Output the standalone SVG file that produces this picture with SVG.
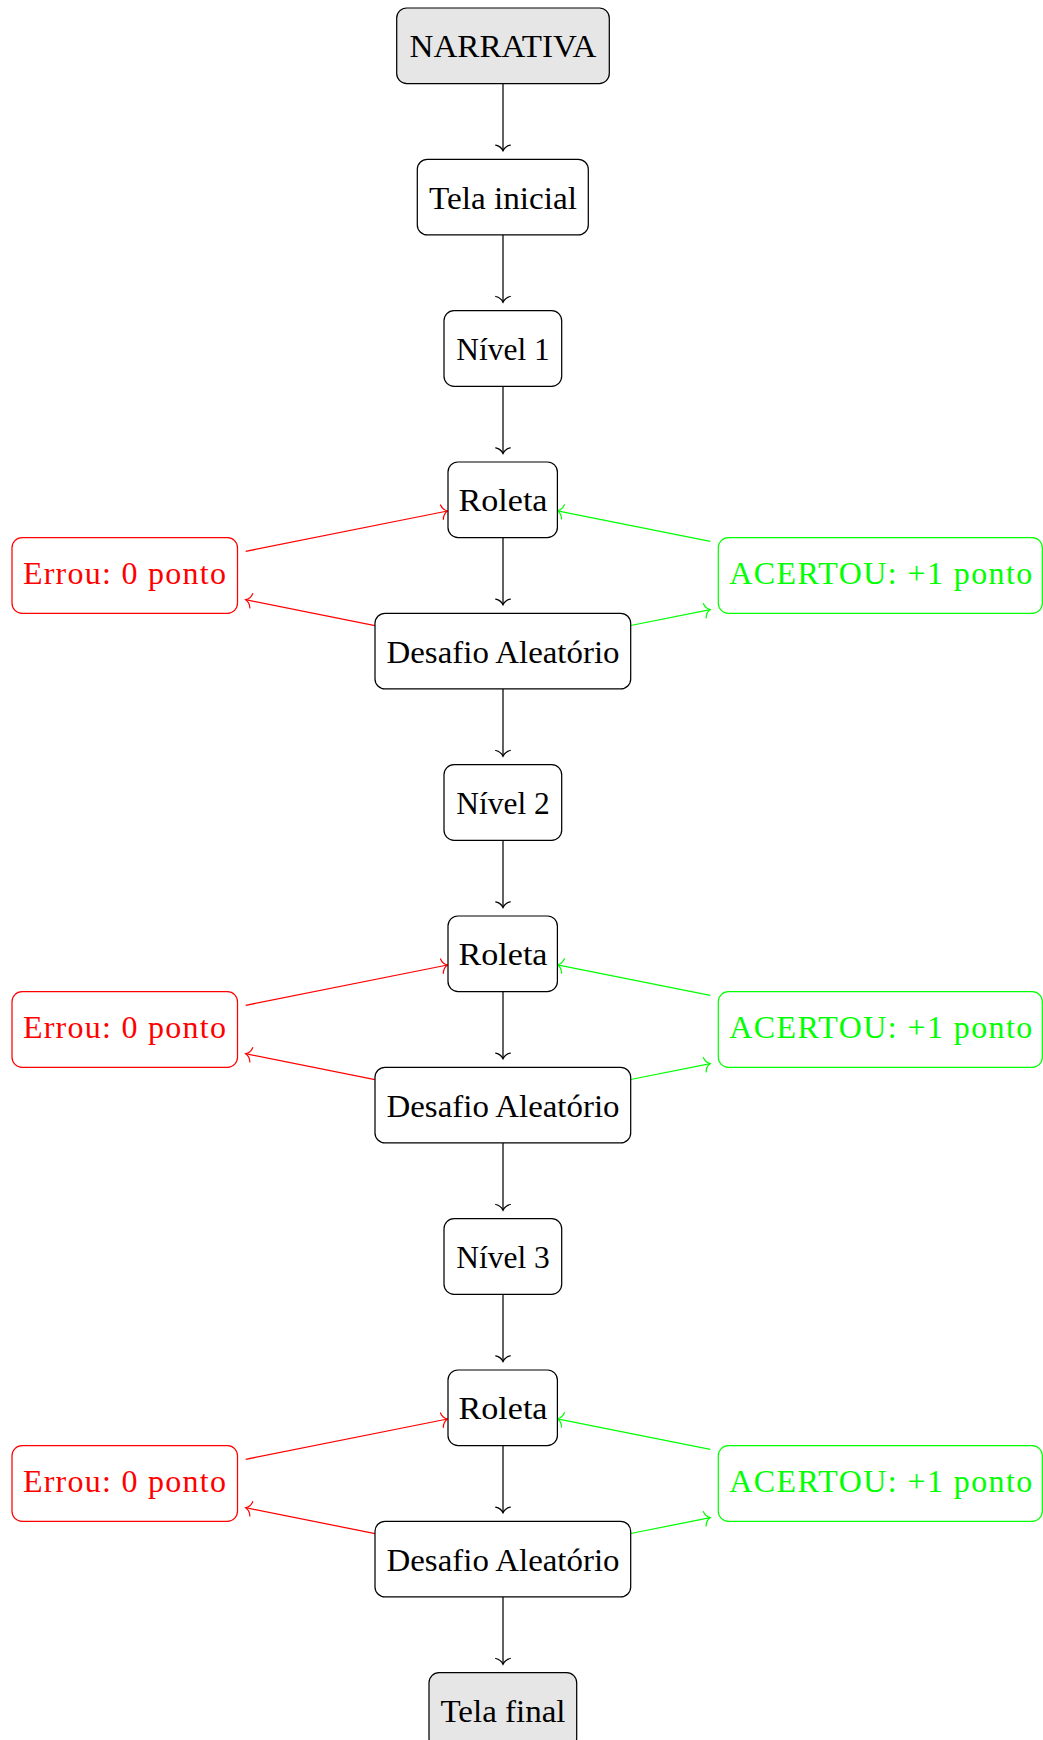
<svg xmlns="http://www.w3.org/2000/svg" width="1043" height="1740" viewBox="0 0 1043 1740">
<style>
.box{fill:#ffffff;stroke:#000000;stroke-width:1.24}
.gray{fill:#e6e6e6}
.red{fill:#ffffff;stroke:#ff0000;stroke-width:1.24}
.green{fill:#ffffff;stroke:#00ff00;stroke-width:1.24}
text{font-family:"Liberation Serif","Times New Roman",serif;font-size:32px;text-anchor:middle;fill:#000000}
text.tr{fill:#ff0000}
text.tg{fill:#00ff00}
.c{fill:none;stroke:#000000;stroke-width:1.24}
.cr{fill:none;stroke:#ff0000;stroke-width:1.24}
.cg{fill:none;stroke:#00ff00;stroke-width:1.24}
</style>
<defs>
<marker id="ak" viewBox="-8 -9 10 18" refX="0" refY="0" markerWidth="10" markerHeight="18" markerUnits="userSpaceOnUse" orient="auto">
<path d="M-5.7,-7.3 C-4.8,-3.2 -2,-0.9 0,0 C-2,0.9 -4.8,3.2 -5.7,7.3" fill="none" stroke="#000000" stroke-width="1.24" stroke-linecap="round"/>
</marker>
<marker id="ar" viewBox="-8 -9 10 18" refX="0" refY="0" markerWidth="10" markerHeight="18" markerUnits="userSpaceOnUse" orient="auto">
<path d="M-5.7,-7.3 C-4.8,-3.2 -2,-0.9 0,0 C-2,0.9 -4.8,3.2 -5.7,7.3" fill="none" stroke="#ff0000" stroke-width="1.24" stroke-linecap="round"/>
</marker>
<marker id="ag" viewBox="-8 -9 10 18" refX="0" refY="0" markerWidth="10" markerHeight="18" markerUnits="userSpaceOnUse" orient="auto">
<path d="M-5.7,-7.3 C-4.8,-3.2 -2,-0.9 0,0 C-2,0.9 -4.8,3.2 -5.7,7.3" fill="none" stroke="#00ff00" stroke-width="1.24" stroke-linecap="round"/>
</marker>
</defs>

<g id="connectors">
<g class="c" marker-end="url(#ak)">
<line x1="503" y1="83.6" x2="503" y2="150.8"/>
<line x1="503" y1="234.9" x2="503" y2="302.2"/>
<line x1="503" y1="386.3" x2="503" y2="453.5"/>
<line x1="503" y1="537.6" x2="503" y2="604.8"/>
<line x1="503" y1="688.9" x2="503" y2="756.2"/>
<line x1="503" y1="840.3" x2="503" y2="907.5"/>
<line x1="503" y1="991.6" x2="503" y2="1058.8"/>
<line x1="503" y1="1142.9" x2="503" y2="1210.2"/>
<line x1="503" y1="1294.3" x2="503" y2="1361.5"/>
<line x1="503" y1="1445.6" x2="503" y2="1512.8"/>
<line x1="503" y1="1596.9" x2="503" y2="1664.2"/>
</g>
<g class="cr" marker-end="url(#ar)">
<line x1="245.7" y1="551.3" x2="447.5" y2="511.0"/>
<line x1="375" y1="625.6" x2="245.7" y2="599.7"/>
<line x1="245.7" y1="1005.3" x2="447.5" y2="965.0"/>
<line x1="375" y1="1079.6" x2="245.7" y2="1053.7"/>
<line x1="245.7" y1="1459.3" x2="447.5" y2="1419.0"/>
<line x1="375" y1="1533.6" x2="245.7" y2="1507.7"/>
</g>
<g class="cg" marker-end="url(#ag)">
<line x1="630.7" y1="625.5" x2="710.3" y2="609.6"/>
<line x1="710.3" y1="541.4" x2="557.4" y2="510.8"/>
<line x1="630.7" y1="1079.5" x2="710.3" y2="1063.6"/>
<line x1="710.3" y1="995.4" x2="557.4" y2="964.8"/>
<line x1="630.7" y1="1533.5" x2="710.3" y2="1517.6"/>
<line x1="710.3" y1="1449.4" x2="557.4" y2="1418.8"/>
</g>
</g>

<g id="narrativa"><rect class="box gray" x="396.7" y="8" width="212.6" height="75.6" rx="10"/><text x="503" y="57.2" textLength="187" lengthAdjust="spacingAndGlyphs">NARRATIVA</text></g>
<g id="tela_inicial"><rect class="box" x="417.3" y="159.3" width="171" height="75.6" rx="10"/><text x="503" y="208.5" textLength="148" lengthAdjust="spacingAndGlyphs">Tela inicial</text></g>
<g id="nivel1"><rect class="box" x="444" y="310.7" width="117.7" height="75.6" rx="10"/><text x="503" y="359.9" textLength="93.5" lengthAdjust="spacingAndGlyphs">Nível 1</text></g>
<g id="roleta1"><rect class="box" x="448" y="462" width="109.4" height="75.6" rx="10"/><text x="503" y="511.2" textLength="89" lengthAdjust="spacingAndGlyphs">Roleta</text></g>
<g id="errou1"><rect class="red" x="12" y="537.7" width="225.5" height="75.6" rx="10"/><text class="tr" x="124.4" y="584.3" textLength="203" lengthAdjust="spacing">Errou: 0 ponto</text></g>
<g id="acertou1"><rect class="green" x="718.3" y="537.7" width="324" height="75.6" rx="10"/><text class="tg" x="880.8" y="584.3" textLength="303" lengthAdjust="spacing">ACERTOU: +1 ponto</text></g>
<g id="desafio1"><rect class="box" x="375" y="613.3" width="255.7" height="75.6" rx="10"/><text x="503" y="662.5" textLength="233" lengthAdjust="spacingAndGlyphs">Desafio Aleatório</text></g>
<g id="nivel2"><rect class="box" x="444" y="764.7" width="117.7" height="75.6" rx="10"/><text x="503" y="813.9" textLength="93.5" lengthAdjust="spacingAndGlyphs">Nível 2</text></g>
<g id="roleta2"><rect class="box" x="448" y="916" width="109.4" height="75.6" rx="10"/><text x="503" y="965.2" textLength="89" lengthAdjust="spacingAndGlyphs">Roleta</text></g>
<g id="errou2"><rect class="red" x="12" y="991.7" width="225.5" height="75.6" rx="10"/><text class="tr" x="124.4" y="1038.3" textLength="203" lengthAdjust="spacing">Errou: 0 ponto</text></g>
<g id="acertou2"><rect class="green" x="718.3" y="991.7" width="324" height="75.6" rx="10"/><text class="tg" x="880.8" y="1038.3" textLength="303" lengthAdjust="spacing">ACERTOU: +1 ponto</text></g>
<g id="desafio2"><rect class="box" x="375" y="1067.3" width="255.7" height="75.6" rx="10"/><text x="503" y="1116.5" textLength="233" lengthAdjust="spacingAndGlyphs">Desafio Aleatório</text></g>
<g id="nivel3"><rect class="box" x="444" y="1218.7" width="117.7" height="75.6" rx="10"/><text x="503" y="1267.9" textLength="93.5" lengthAdjust="spacingAndGlyphs">Nível 3</text></g>
<g id="roleta3"><rect class="box" x="448" y="1370" width="109.4" height="75.6" rx="10"/><text x="503" y="1419.2" textLength="89" lengthAdjust="spacingAndGlyphs">Roleta</text></g>
<g id="errou3"><rect class="red" x="12" y="1445.7" width="225.5" height="75.6" rx="10"/><text class="tr" x="124.4" y="1492.3" textLength="203" lengthAdjust="spacing">Errou: 0 ponto</text></g>
<g id="acertou3"><rect class="green" x="718.3" y="1445.7" width="324" height="75.6" rx="10"/><text class="tg" x="880.8" y="1492.3" textLength="303" lengthAdjust="spacing">ACERTOU: +1 ponto</text></g>
<g id="desafio3"><rect class="box" x="375" y="1521.3" width="255.7" height="75.6" rx="10"/><text x="503" y="1570.5" textLength="233" lengthAdjust="spacingAndGlyphs">Desafio Aleatório</text></g>
<g id="tela_final"><rect class="box gray" x="429" y="1672.7" width="147.7" height="75.6" rx="10"/><text x="503" y="1721.9" textLength="125" lengthAdjust="spacingAndGlyphs">Tela final</text></g>
</svg>
